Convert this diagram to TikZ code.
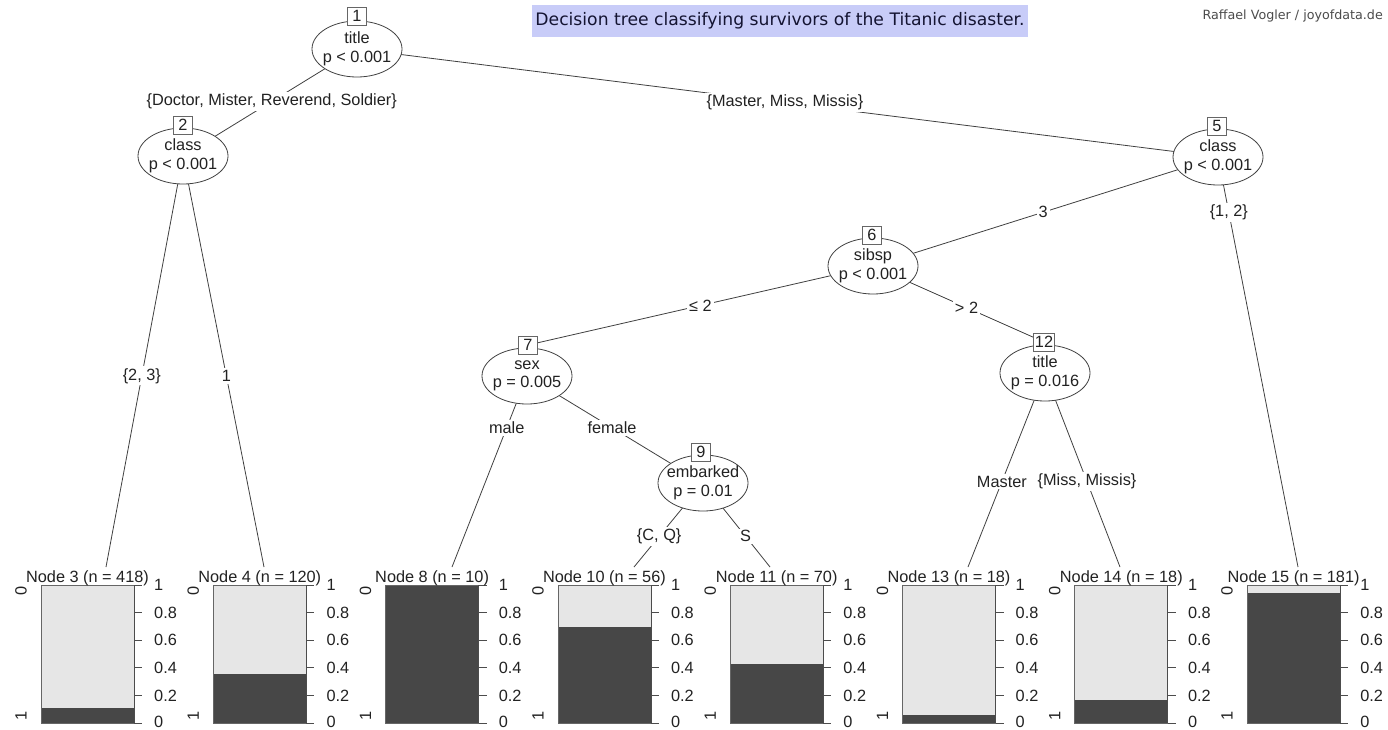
\documentclass[tikz,border=0pt]{standalone}
\usepackage{fontspec}
\setmainfont{Liberation Sans}
\newfontfamily\vfont{DejaVu Sans}
\usetikzlibrary{shapes.geometric,backgrounds}
\definecolor{lightbar}{HTML}{E6E6E6}
\definecolor{darkbar}{HTML}{474747}
\definecolor{titlefill}{RGB}{200,204,248}
\definecolor{titletext}{RGB}{20,20,50}
\definecolor{inkc}{HTML}{222222}
\begin{document}
\begin{tikzpicture}[x=1pt,y=-1pt,
  every node/.style={font=\fontsize{16.3}{18.5}\selectfont, text=inkc},
  ell/.style={ellipse, draw=black!75, fill=white, line width=0.8pt, minimum width=90pt, minimum height=56pt, inner sep=0pt},
  numbox/.style={draw=black!60, fill=white, line width=0.8pt, minimum width=19pt, minimum height=18pt, inner sep=1.5pt},
  ntext/.style={align=center, inner sep=0pt},
  edge/.style={draw=black!75, line width=0.8pt},
  elab/.style={fill=white, inner sep=2pt},
  leaftitle/.style={anchor=base, inner sep=0pt},
  ticklab/.style={anchor=west, inner sep=0pt},
  sidelab/.style={rotate=90, inner sep=0pt}
]
\useasboundingbox (0,0) rectangle (1388,729);

% header
\node[fill=titlefill, inner sep=0pt, minimum width=496pt, minimum height=32pt, text=titletext, font=\vfont\fontsize{17.2}{19}\selectfont] (title) at (780,21) {Decision tree classifying survivors of the Titanic disaster.};
\node[font=\vfont\fontsize{12.7}{14}\selectfont, text=black!70, anchor=east, inner sep=0pt] (author) at (1383,16) {Raffael Vogler / joyofdata.de};

% inner nodes
\node[ell] (n1) at (357,49) {};
\node[ell] (n2) at (183,156) {};
\node[ell] (n5) at (1218,157) {};
\node[ell] (n6) at (873,266) {};
\node[ell] (n7) at (527,376) {};
\node[ell] (n9) at (703,483) {};
\node[ell] (n12) at (1045,373) {};

\node[ntext] (n1t) at (n1.center) {title\\p < 0.001};
\node[ntext] (n2t) at (n2.center) {class\\p < 0.001};
\node[ntext] (n5t) at (n5.center) {class\\p < 0.001};
\node[ntext] (n6t) at (n6.center) {sibsp\\p < 0.001};
\node[ntext] (n7t) at (n7.center) {sex\\p = 0.005};
\node[ntext] (n9t) at (n9.center) {embarked\\p = 0.01};
\node[ntext] (n12t) at (n12.center) {title\\p = 0.016};

\node[numbox] (b1) at (357,16) {1};
\node[numbox] (b2) at (183,125) {2};
\node[numbox] (b5) at (1217,126) {5};
\node[numbox] (b6) at (872,235) {6};
\node[numbox] (b7) at (528,345) {7};
\node[numbox] (b9) at (701,452) {9};
\node[numbox] (b12) at (1044,342) {12};

% leaf end points
\coordinate (t3) at (106,567);
\coordinate (t4) at (264,567);
\coordinate (t8) at (452,567);
\coordinate (t10) at (634,567);
\coordinate (t11) at (770,567);
\coordinate (t13) at (968,567);
\coordinate (t14) at (1120,567);
\coordinate (t15) at (1298,567);

% white page and edges, behind the nodes
\begin{scope}[on background layer]
\fill[white] (0,0) rectangle (1388,729);
\draw[edge] (n1.center) -- node[elab,pos=0.49] (e12) {\{Doctor, Mister, Reverend, Soldier\}} (n2.center);
\draw[edge] (n1.center) -- node[elab,pos=0.497] (e15) {\{Master, Miss, Missis\}} (n5.center);
\draw[edge] (n2.center) -- node[elab,pos=0.535] (e23) {\{2, 3\}} (t3);
\draw[edge] (n2.center) -- node[elab,pos=0.535] (e24) {1} (t4);
\draw[edge] (n5.center) -- node[elab,pos=0.507] (e56) {3} (n6.center);
\draw[edge] (n5.center) -- node[elab,pos=0.135] (e515) {\{1, 2\}} (t15);
\draw[edge] (n6.center) -- node[elab,pos=0.5] (e67) {≤ 2} (b7.center);
\draw[edge] (n6.center) -- node[elab,pos=0.547] (e612) {> 2} (b12.center);
\draw[edge] (n7.center) -- node[elab,pos=0.27] (e78) {male} (t8);
\draw[edge] (n7.center) -- node[elab,pos=0.483] (e79) {female} (n9.center);
\draw[edge] (n9.center) -- node[elab,pos=0.635] (e910) {\{C, Q\}} (t10);
\draw[edge] (n9.center) -- node[elab,pos=0.635] (e911) {S} (t11);
\draw[edge] (n12.center) -- node[elab,pos=0.56] (e1213) {Master} (t13);
\draw[edge] (n12.center) -- node[elab,pos=0.56] (e1214) {\{Miss, Missis\}} (t14);
\end{scope}

% terminal panels
\foreach \L/\id/\n/\f in {41/3/418/0.11, 213.3/4/120/0.358, 385.6/8/10/1.0, 557.9/10/56/0.696, 730.2/11/70/0.43, 902.5/13/18/0.058, 1074.8/14/18/0.167, 1247.1/15/181/0.945} {
  \fill[lightbar] (\L,585) rectangle ({\L+93},723);
  \fill[darkbar] (\L,{723-\f*138}) rectangle ({\L+93},723);
  \draw[black!60, line width=0.8pt] (\L,585) rectangle ({\L+93},723);
  \draw[black!70, line width=0.8pt] ({\L+93},585) -- ({\L+93},723);
  \foreach \v in {0,0.2,0.4,0.6,0.8,1} {
    \draw[black!70, line width=0.8pt] ({\L+93},{723-\v*138}) -- ({\L+101},{723-\v*138});
    \node[ticklab] at ({\L+113},{min(723-\v*138,721.5)}) {\v};
  }
  \node[leaftitle] (lt\id) at ({\L+46.5},582) {Node \id{} (n = \n)};
  \node[sidelab] (lz\id) at ({\L-20},591) {0};
  \node[sidelab] (lo\id) at ({\L-20},716) {1};
}
\end{tikzpicture}
\end{document}
